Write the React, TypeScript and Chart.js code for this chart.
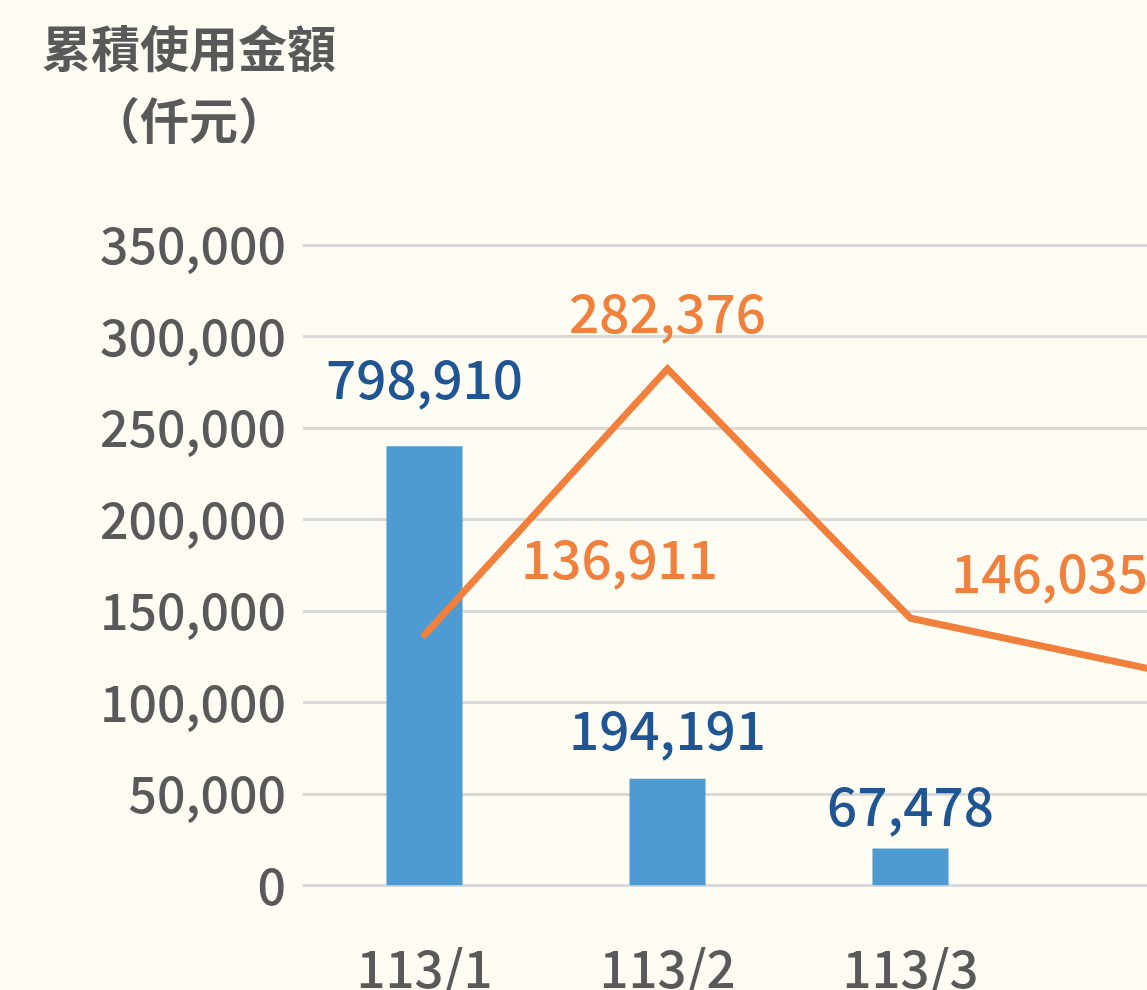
import React, { useEffect, useRef } from "react";
import { Chart, registerables } from "chart.js";

Chart.register(...registerables);

// ---- data ----
const categories = ["113/1", "113/2", "113/3", ""];
const usageAmount = [798910, 194191, 67478, null]; // bars (right, hidden scale)
const cumulativeAmount = [136911, 282376, 146035, 118000]; // line (left scale, 仟元)
const yTickValues = [0, 50000, 100000, 150000, 200000, 250000, 300000, 350000];
const titleLines = ["累積使用金額", "（仟元）"];

// ---- style ----
const FONT = '"Noto Sans CJK TC", "Noto Sans", sans-serif';
const BG = "#FEFCF3";
const GRAY = "#595959";
const BAR = "#4E9AD2";
const BAR_LABEL = "#1F5592";
const ORANGE = "#F1803C";
const barLabelDy = [-67, -49, -43, 0];
const lineLabelOffset: ([number, number] | null)[] = [[195, -76], [0, -56], [139, -45], null];

const fmt = (v: number) => v.toLocaleString("en-US");

const labelPlugin = {
  id: "valueLabels",
  afterDatasetsDraw(chart: any) {
    const ctx = chart.ctx;
    ctx.save();
    ctx.font = `500 53px ${FONT}`;
    ctx.textAlign = "center";
    ctx.textBaseline = "middle";
    const barMeta = chart.getDatasetMeta(0);
    barMeta.data.forEach((el: any, i: number) => {
      const v = usageAmount[i];
      if (v == null) return;
      ctx.fillStyle = BAR_LABEL;
      ctx.fillText(fmt(v), el.x, el.y + barLabelDy[i]);
    });
    const lineMeta = chart.getDatasetMeta(1);
    lineMeta.data.forEach((el: any, i: number) => {
      const off = lineLabelOffset[i];
      if (!off) return;
      ctx.fillStyle = ORANGE;
      ctx.fillText(fmt(cumulativeAmount[i]), el.x + off[0], el.y + off[1]);
    });
    ctx.restore();
  },
};

export default function App() {
  const ref = useRef<HTMLCanvasElement | null>(null);

  useEffect(() => {
    if (!ref.current) return;
    const chart = new Chart(ref.current, {
      type: "bar",
      data: {
        labels: categories,
        datasets: [
          {
            type: "bar",
            label: "使用金額",
            data: usageAmount,
            backgroundColor: BAR,
            yAxisID: "y1",
            barPercentage: 0.313,
            categoryPercentage: 1,
            order: 1,
          },
          {
            type: "line",
            label: "累積使用金額",
            data: cumulativeAmount,
            borderColor: ORANGE,
            borderWidth: 7,
            borderCapStyle: "round",
            pointRadius: 0,
            tension: 0,
            yAxisID: "y",
            order: 0,
          },
        ],
      } as any,
      options: {
        animation: false,
        responsive: false,
        devicePixelRatio: 1,
        layout: { padding: { top: 245, right: 15, left: 0, bottom: 0 } },
        plugins: {
          legend: { display: false },
          tooltip: { enabled: false },
          title: { display: false },
        },
        scales: {
          x: {
            grid: { display: false, drawTicks: false },
            border: { display: false },
            ticks: {
              color: GRAY,
              font: { family: FONT, size: 51, weight: "500" },
              padding: 53,
              maxRotation: 0,
              autoSkip: false,
            },
            afterFit(scale: any) {
              scale.height = 104.5;
            },
          },
          y: {
            position: "left",
            min: 0,
            max: 350000,
            afterBuildTicks(scale: any) {
              scale.ticks = yTickValues.map((v) => ({ value: v }));
            },
            grid: { color: "#D9D9D9", lineWidth: 3, drawTicks: false },
            border: { display: false },
            ticks: {
              color: GRAY,
              font: { family: FONT, size: 50, weight: "500" },
              padding: 17,
              callback: (v: any) => fmt(Number(v)),
            },
            afterFit(scale: any) {
              scale.width = 303;
            },
          },
          y1: {
            display: false,
            min: 0,
            max: 1165000,
          },
        },
      } as any,
      plugins: [labelPlugin],
    });
    return () => chart.destroy();
  }, []);

  return (
    <div
      style={{
        position: "fixed",
        left: 0,
        top: 0,
        width: 1147,
        height: 990,
        overflow: "hidden",
        background: BG,
      }}
    >
      <canvas
        ref={ref}
        width={1290}
        height={990}
        style={{ position: "absolute", left: 0, top: 0, width: 1290, height: 990 }}
      />
      <div
        style={{
          position: "absolute",
          left: 0,
          top: 9.5,
          width: 378,
          textAlign: "center",
          fontFamily: FONT,
          fontWeight: 700,
          fontSize: 49,
          lineHeight: "72px",
          color: GRAY,
        }}
      >
        {titleLines.map((t) => (
          <div key={t}>{t}</div>
        ))}
      </div>
    </div>
  );
}
